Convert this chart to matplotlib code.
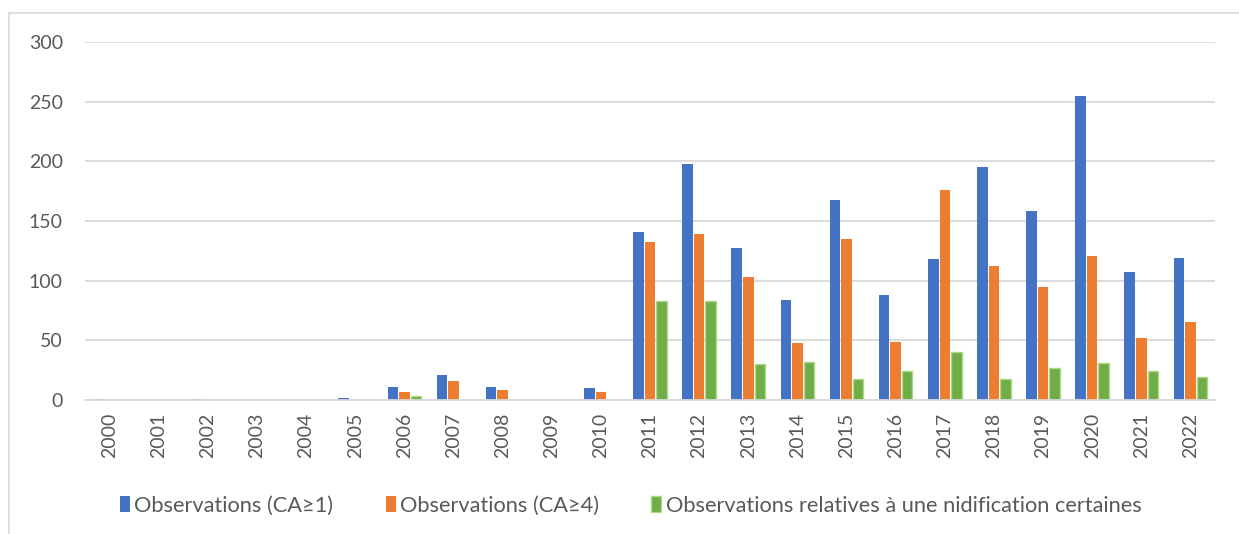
import numpy as np
import matplotlib.pyplot as plt
import matplotlib.patches as mpatches

years = list(range(2000, 2023))
obs_ca1 = [1, 0, 1, 0, 0, 2, 11, 21, 11, 0, 10,
           141, 198, 127, 84, 168, 88, 118, 195, 158, 255, 107, 119]
obs_ca4 = [0, 0, 0, 0, 0, 0, 7, 16, 8, 0, 7,
           132, 139, 103, 48, 135, 49, 176, 112, 95, 121, 52, 65]
obs_nid = [0, 0, 0, 0, 0, 0, 3, 0, 0, 0, 0,
           83, 83, 30, 32, 18, 24, 40, 18, 27, 31, 24, 19]

labels = ['Observations (CA≥1)', 'Observations (CA≥4)',
          'Observations relatives à une nidification certaines']

plt.rcParams['font.family'] = ['Lato', 'DejaVu Sans']

TEXT = '#595959'
GRID = '#d9d9d9'

fig = plt.figure(figsize=(12.39, 5.34), dpi=100)
ax = fig.add_axes([85 / 1239, 134 / 534, 1130 / 1239, 358 / 534])

x = np.arange(len(years))
w = 0.215
step = 0.235

ax.bar(x - step, obs_ca1, w, color='#4472c4', label=labels[0], zorder=2)
ax.bar(x, obs_ca4, w, color='#ed7d31', label=labels[1], zorder=2)
ax.bar(x + step, obs_nid, w, color='#70ad47', edgecolor='#a9d98a',
       linewidth=1.0, label=labels[2], zorder=2)

ax.set_xlim(-0.5, len(years) - 0.5)
ax.set_ylim(0, 300)
ax.set_yticks(range(0, 301, 50))
ax.set_xticks(x)
ax.set_xticklabels([str(y) for y in years], rotation=90)
ax.tick_params(axis='both', length=0, labelsize=14, colors=TEXT)
ax.tick_params(axis='y', pad=16)
ax.tick_params(axis='x', pad=9)
ax.grid(axis='y', color=GRID, linewidth=1.3, zorder=0)
for s in ['top', 'right', 'left']:
    ax.spines[s].set_visible(False)
ax.spines['bottom'].set_color(GRID)
ax.spines['bottom'].set_linewidth(1.3)

ax.legend(loc='center', bbox_to_anchor=(0.483, -0.295), ncol=3,
          frameon=False, fontsize=15.7, labelcolor=TEXT,
          handlelength=0.45, handleheight=0.7, handletextpad=0.2,
          columnspacing=2.4)

# chart frame
fig.patches.append(mpatches.Rectangle((9 / 1239, -0.1), 1.2, 0.1 + 521 / 534,
                                      transform=fig.transFigure,
                                      fill=False, edgecolor=GRID,
                                      linewidth=1.2))

fig.savefig('out.png', dpi=100, facecolor='white')
